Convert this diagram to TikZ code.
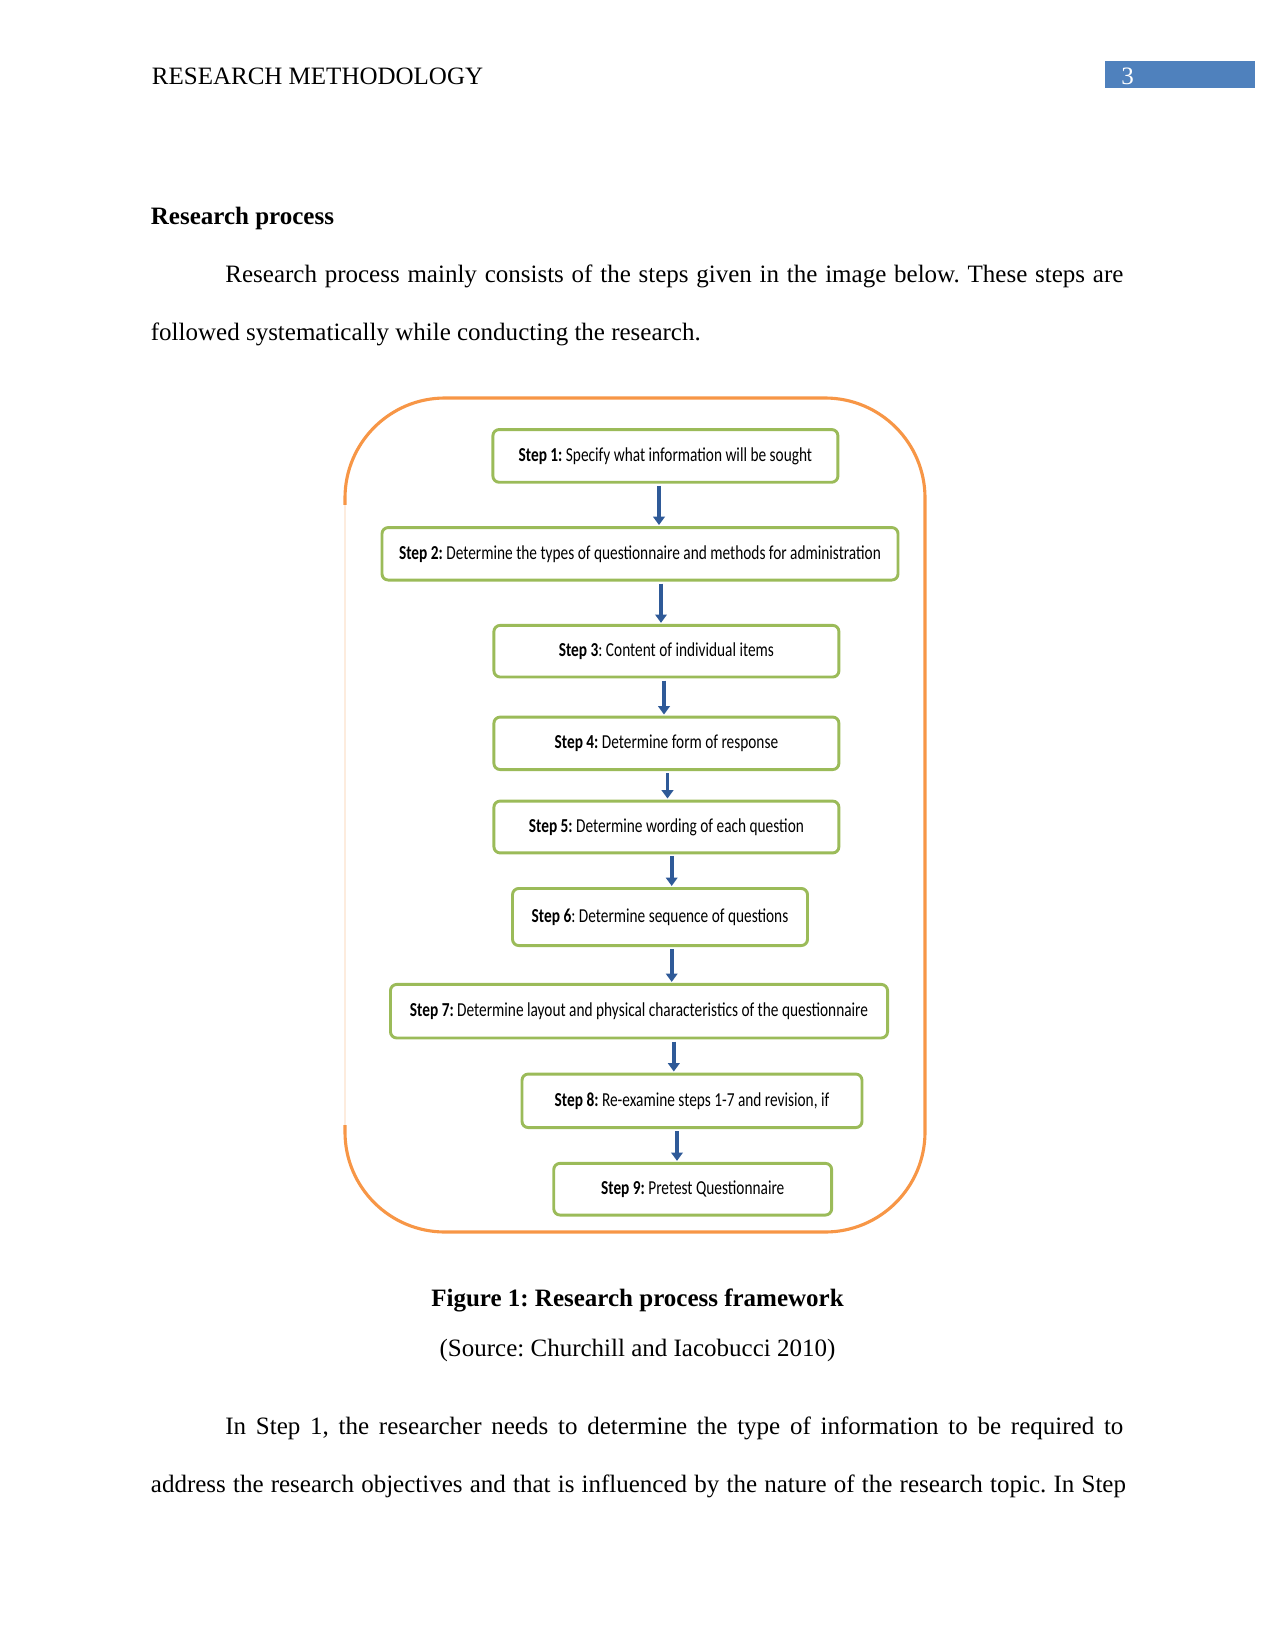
\documentclass[tikz,border=0pt]{standalone}
\usepackage{fontspec}
\setmainfont{Liberation Serif}
\newfontfamily\stepfont[FakeStretch=0.775]{Carlito}
\usetikzlibrary{arrows.meta,positioning}
\definecolor{frame-orange}{HTML}{F79646}
\definecolor{box-green}{HTML}{9BBB59}
\definecolor{arrow-blue}{HTML}{2F5A98}
\definecolor{header-blue}{HTML}{4F81BD}
\frenchspacing

\begin{document}
\begin{tikzpicture}[x=0.48pt, y=-0.48pt,
  stepbox/.style={draw=box-green, line width=1.4pt, rounded corners=3pt, fill=white, inner sep=0pt, font=\stepfont\fontsize{9.5}{11}\selectfont},
  flow/.style={-{Triangle[length=4pt, width=5.5pt]}, line width=1.9pt, arrow-blue, shorten <=1pt, shorten >=0.5pt},
  body/.style={anchor=west, inner sep=0pt, font=\fontsize{12}{14}\selectfont}
]
  \useasboundingbox (0,0) rectangle (1275,1651);

  % page header
  \node[body] (runhead) at (151.5,76) {RESEARCH METHODOLOGY};
  \fill[header-blue] (1105,61) rectangle (1255,88);
  \node[body, text=white] (pagenum) at (1121,76) {3};

  % text above the figure
  \node[body, font=\fontsize{12}{14}\selectfont\bfseries] (heading) at (150.5,218) {Research process};
  \node[body] (para1a) at (225,276) {\makebox[431pt][s]{Research process mainly consists of the steps given in the image below. These steps are}};
  \node[body] (para1b) at (150.5,334) {followed systematically while conducting the research.};

  % frame
  \draw[frame-orange, line width=1.5pt, rounded corners=48pt] (345,398) rectangle (925,1232);
  \draw[white, line width=2.5pt] (345,505) -- (345,1125);
  \draw[frame-orange!18, line width=1.3pt] (345,505) -- (345,1125);

  % steps
  \node[stepbox, minimum width=165.6pt, minimum height=25.3pt] (s1) at (665.4,455.9) {\textbf{Step 1:} Specify what information will be sought};
  \node[stepbox, minimum width=247.7pt, minimum height=25.2pt] (s2) at (640,553.8) {\textbf{Step 2:} Determine the types of questionnaire and methods for administration};
  \node[stepbox, minimum width=165.6pt, minimum height=24.8pt] (s3) at (666.4,651.2) {\textbf{Step 3}: Content of individual items};
  \node[stepbox, minimum width=165.6pt, minimum height=25.2pt] (s4) at (666.4,743.3) {\textbf{Step 4:} Determine form of response};
  \node[stepbox, minimum width=165.6pt, minimum height=24.9pt] (s5) at (666.4,827) {\textbf{Step 5:} Determine wording of each question};
  \node[stepbox, minimum width=141.6pt, minimum height=27.4pt] (s6) at (660,917) {\textbf{Step 6}: Determine sequence of questions};
  \node[stepbox, minimum width=238.6pt, minimum height=25.7pt] (s7) at (639,1011.2) {\textbf{Step 7:} Determine layout and physical characteristics of the questionnaire};
  \node[stepbox, minimum width=163.2pt, minimum height=25.7pt] (s8) at (692,1100.8) {\textbf{Step 8:} Re-examine steps 1-7 and revision, if};
  \node[stepbox, minimum width=133.4pt, minimum height=24.8pt] (s9) at (692.7,1189.2) {\textbf{Step 9:} Pretest Questionnaire};

  \draw[flow] (s1.south -| 659,0) -- (s2.north -| 659,0);
  \draw[flow] (s2.south -| 661,0) -- (s3.north -| 661,0);
  \draw[flow] (s3.south -| 664,0) -- (s4.north -| 664,0);
  \draw[flow] (s4.south -| 667.5,0) -- (s5.north -| 667.5,0);
  \draw[flow] (s5.south -| 671.7,0) -- (s6.north -| 671.7,0);
  \draw[flow] (s6.south -| 671.7,0) -- (s7.north -| 671.7,0);
  \draw[flow] (s7.south -| 673.8,0) -- (s8.north -| 673.8,0);
  \draw[flow] (s8.south -| 677,0) -- (s9.north -| 677,0);

  % caption and text below
  \node[body, anchor=center, font=\fontsize{12}{14}\selectfont\bfseries] (caption) at (637.5,1300) {Figure 1: Research process framework};
  \node[body, anchor=center] (source) at (637.5,1350.6) {(Source: Churchill and Iacobucci 2010)};
  \node[body] (para2a) at (225,1428.5) {\makebox[431pt][s]{In Step 1, the researcher needs to determine the type of information to be required to}};
  \node[body] (para2b) at (150.5,1486.4) {\makebox[468pt][s]{address the research objectives and that is influenced by the nature of the research topic. In Step}};
\end{tikzpicture}
\end{document}
